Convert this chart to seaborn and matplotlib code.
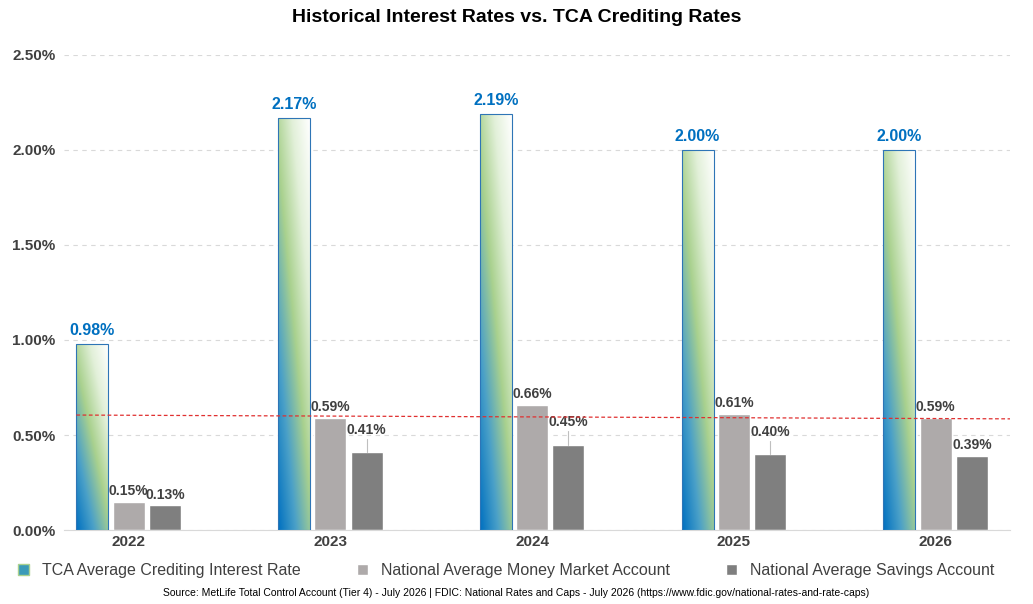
import numpy as np
import pandas as pd
import matplotlib
matplotlib.use("Agg")
import matplotlib.pyplot as plt
import seaborn as sns
from matplotlib.patches import Patch
from matplotlib.colors import LinearSegmentedColormap

years = ["2022", "2023", "2024", "2025", "2026"]
tca = [0.98, 2.17, 2.19, 2.00, 2.00]
money_market = [0.15, 0.59, 0.66, 0.61, 0.59]
savings = [0.13, 0.41, 0.45, 0.40, 0.39]
series = ["TCA Average Crediting Interest Rate", "National Average Money Market Account",
          "National Average Savings Account"]
trend_start, trend_end = 0.605, 0.585

df = pd.DataFrame({
    "year": years * 3,
    "rate": tca + money_market + savings,
    "series": [series[0]] * 5 + [series[1]] * 5 + [series[2]] * 5,
})

sns.set_style("white")
plt.rcParams['font.family'] = ['Liberation Sans', 'DejaVu Sans']
fig = plt.figure(figsize=(10.33, 6.04), dpi=100)
ax = fig.add_axes([0.062, 0.1225, 0.916, 0.7865])
pal = {series[0]: "#ffffff", series[1]: "#aeaaaa", series[2]: "#7f7f7f"}
sns.barplot(data=df, x="year", y="rate", hue="series", palette=pal, width=0.54, gap=0.12,
            ax=ax, legend=False, saturation=1)

ax.set_ylim(0, 2.5)
ax.set_xlim(-0.32, 4.37)
ax.set_yticks(np.arange(0, 2.51, 0.5))
ax.set_yticklabels([f"{v:.2f}%" for v in np.arange(0, 2.51, 0.5)], fontsize=11, fontweight="bold", color="#404040")
ax.tick_params(axis="x", labelsize=11, colors="#404040", length=0)
for t in ax.get_xticklabels():
    t.set_fontweight("bold")
ax.tick_params(axis="y", length=0, pad=6)
ax.set_xlabel(""); ax.set_ylabel("")
ax.yaxis.grid(True, linestyle=(0, (4, 4)), color="#d9d9d9", linewidth=0.8)
ax.set_axisbelow(True)
for s in ["top", "right", "left"]:
    ax.spines[s].set_visible(False)
ax.spines["bottom"].set_color("#d9d9d9")

cmap = LinearSegmentedColormap.from_list("g", ["#0070c0", "#4aa0c8", "#a9d18e", "#e2f0d9", "#ffffff"])
patches = ax.patches
for i, p in enumerate(patches[:5]):
    x0, w, h = p.get_x(), p.get_width(), p.get_height()
    yy = np.linspace(1, 0, 100)[:, None]
    xx = np.linspace(0, 1, 100)[None, :]
    g = np.clip(0.55 * yy + 0.45 * xx, 0, 1)
    im = ax.imshow(g, cmap=cmap, extent=[x0, x0 + w, 0, h], aspect="auto", zorder=2.5,
                   interpolation="bilinear")
    im.set_clip_path(p)
    p.set_edgecolor("#2e75b6"); p.set_linewidth(0.8); p.set_zorder(3); p.set_facecolor("none")
    ax.text(x0 + w / 2, h + 0.03, f"{tca[i]:.2f}%", ha="center", va="bottom", fontsize=11.5,
            fontweight="bold", color="#0070c0")
for i, p in enumerate(patches[5:10]):
    ax.text(p.get_x() + p.get_width() / 2, p.get_height() + 0.02, f"{money_market[i]:.2f}%",
            ha="center", va="bottom", fontsize=10, fontweight="bold", color="#404040")
for i, p in enumerate(patches[10:15]):
    ax.text(p.get_x() + p.get_width() / 2, p.get_height() + 0.02 + (0.06 if i in (1, 2, 3) else 0),
            f"{savings[i]:.2f}%", ha="center", va="bottom", fontsize=10, fontweight="bold", color="#404040")
    if i in (1, 2, 3):
        ax.plot([p.get_x() + p.get_width() / 2] * 2, [p.get_height(), p.get_height() + 0.07],
                color="#bfbfbf", lw=0.8, zorder=4)

ax.plot([patches[0].get_x(), 4.37], [trend_start, trend_end], color="#e03030",
        linestyle=(0, (3, 2)), lw=0.9, zorder=5)

fig.suptitle("Historical Interest Rates vs. TCA Crediting Rates", y=0.985, fontsize=14,
             fontweight="bold", color="#000000")
handles = [Patch(facecolor="#3a9ab8", edgecolor="#a9d18e"),
           Patch(facecolor="#aeaaaa"), Patch(facecolor="#7f7f7f")]
fig.legend(handles, series, loc="center", bbox_to_anchor=(0.49, 0.055), ncol=3, frameon=False,
           fontsize=11.5, handlelength=0.7, handleheight=0.7, columnspacing=3.5, labelcolor="#404040")
fig.text(0.5, 0.013, "Source: MetLife Total Control Account (Tier 4) - July 2026 | FDIC: National Rates and Caps - July 2026 (https://www.fdic.gov/national-rates-and-rate-caps)",
         ha="center", fontsize=7.5, color="#000000")
fig.savefig("out.png", dpi=100)
